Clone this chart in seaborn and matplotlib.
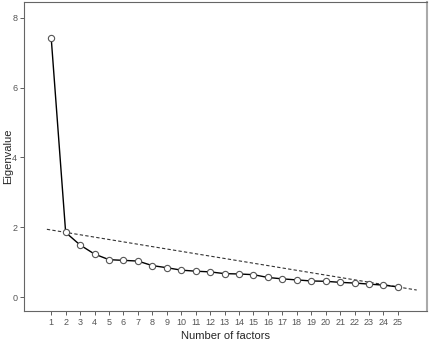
import matplotlib
matplotlib.use("Agg")
import matplotlib.pyplot as plt
import seaborn as sns
import pandas as pd

factors = list(range(1, 26))
eigenvalues = [7.42, 1.85, 1.49, 1.23, 1.07, 1.05, 1.03, 0.90, 0.84, 0.77,
               0.74, 0.72, 0.67, 0.66, 0.64, 0.56, 0.52, 0.49, 0.46, 0.45,
               0.42, 0.40, 0.37, 0.34, 0.29]
trend_x = [0.7, 26.3]
trend_y = [1.94, 0.20]
y_ticks = [0, 2, 4, 6, 8]

sns.set_theme(style="white")
plt.rcParams['font.family'] = ['Liberation Sans', 'DejaVu Sans']

df = pd.DataFrame({"factor": factors, "eigen": eigenvalues})

fig = plt.figure(figsize=(4.32, 3.44), dpi=100)
ax = fig.add_axes([0.056, 0.096, 0.932, 0.898])

ax.plot(trend_x, trend_y, linestyle=(0, (3, 2)), color="#333333", linewidth=0.8)
sns.lineplot(data=df, x="factor", y="eigen", ax=ax, color="black", linewidth=1.0,
             marker="o", markersize=4.5, markerfacecolor="white",
             markeredgecolor="#555555", markeredgewidth=0.8)

ax.set_xlim(-0.87, 27.0)
ax.set_ylim(-0.4, 8.45)
ax.set_xticks(factors)
ax.set_xticklabels([str(f) for f in factors], fontsize=6.5, color="#555555")
ax.set_yticks(y_ticks)
ax.set_yticklabels([str(v) for v in y_ticks], fontsize=6.5, color="#555555")
ax.tick_params(axis="both", which="both", length=3, width=0.6, color="#444444",
               direction="out", pad=2, bottom=True, left=True)
ax.set_xlabel("Number of factors", fontsize=8, labelpad=3)
ax.set_ylabel("Eigenvalue", fontsize=8)
ax.yaxis.set_label_coords(-0.028, 0.5)
for side in ["left", "bottom", "top", "right"]:
    ax.spines[side].set_color("#666666")
    ax.spines[side].set_linewidth(0.8)
ax.spines["right"].set_color("#aaaaaa")
ax.spines["right"].set_linewidth(1.5)

fig.savefig("out.png", dpi=100)
